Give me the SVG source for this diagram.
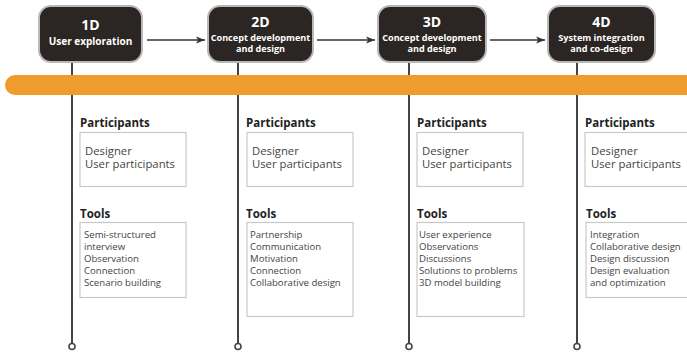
<svg xmlns="http://www.w3.org/2000/svg" width="687" height="353" viewBox="0 0 687 353">
  <defs>
    <marker id="arrow" viewBox="0 0 10 10" refX="10" refY="5" markerWidth="9" markerHeight="9" markerUnits="userSpaceOnUse" orient="auto">
      <path d="M0,1 L10,5 L0,9 L2.5,5 Z" fill="#333"/>
    </marker>
    <style>
      .stage rect { fill: #2b2624; stroke: #b8b8b8; stroke-width: 2; }
      .stage text { fill: #ffffff; font-family: "Open Sans", "Noto Sans", sans-serif; font-weight: bold; text-anchor: middle; }
      .stage .num { font-size: 14px; }
      .stage .sub { font-size: 9.1px; }
      .stage .sub1 { font-size: 10px; }
      .flow line { stroke: #333; stroke-width: 1.5; }
      .stem { stroke: #444; stroke-width: 2; }
      .end { fill: #fff; stroke: #444; stroke-width: 1.6; }
      .head { font-family: "Open Sans", "Noto Sans", sans-serif; font-weight: bold; font-size: 11.5px; fill: #222; }
      .box { fill: #fff; stroke: #c9c9c9; stroke-width: 1.2; }
      .who { font-family: "Open Sans", "Noto Sans", sans-serif; font-size: 11.3px; fill: #444; }
      .tool { font-family: "Open Sans", "Noto Sans", sans-serif; font-size: 9.6px; fill: #444; }
    </style>
  </defs>

  <rect width="687" height="353" fill="#ffffff"/>

  <!-- timeline stems with end rings -->
  <g id="stems">
    <line class="stem" x1="72" y1="62" x2="72" y2="343"/>
    <circle class="end" cx="72" cy="346.5" r="3"/>
    <line class="stem" x1="238" y1="62" x2="238" y2="343"/>
    <circle class="end" cx="238" cy="346.5" r="3"/>
    <line class="stem" x1="409" y1="62" x2="409" y2="343"/>
    <circle class="end" cx="409" cy="346.5" r="3"/>
    <line class="stem" x1="577" y1="62" x2="577" y2="343"/>
    <circle class="end" cx="577" cy="346.5" r="3"/>
  </g>

  <!-- orange timeline bar -->
  <rect id="bar" x="5" y="75" width="700" height="20" rx="10" fill="#ef9c2f"/>

  <!-- connectors between stages -->
  <g class="flow" id="connectors">
    <line x1="147" y1="40" x2="205" y2="40" marker-end="url(#arrow)"/>
    <line x1="317" y1="40" x2="375" y2="40" marker-end="url(#arrow)"/>
    <line x1="490" y1="40" x2="545" y2="40" marker-end="url(#arrow)"/>
  </g>

  <!-- stage nodes -->
  <g class="stage" id="stage-1d">
    <rect x="39" y="6" width="103" height="56" rx="12"/>
    <text class="num" x="90.5" y="30">1D</text>
    <text class="sub1" x="90.5" y="45">User exploration</text>
  </g>
  <g class="stage" id="stage-2d">
    <rect x="208" y="6" width="105" height="56" rx="12"/>
    <text class="num" x="260.5" y="26.5">2D</text>
    <text class="sub" x="260.5" y="40.5">Concept development</text>
    <text class="sub" x="260.5" y="52">and design</text>
  </g>
  <g class="stage" id="stage-3d">
    <rect x="378" y="6" width="108" height="56" rx="12"/>
    <text class="num" x="432" y="26.5">3D</text>
    <text class="sub" x="432" y="40.5">Concept development</text>
    <text class="sub" x="432" y="52">and design</text>
  </g>
  <g class="stage" id="stage-4d">
    <rect x="548" y="6" width="107" height="56" rx="12"/>
    <text class="num" x="601.5" y="26.5">4D</text>
    <text class="sub" x="601.5" y="40.5">System integration</text>
    <text class="sub" x="601.5" y="52">and co-design</text>
  </g>

  <!-- stage 1 details -->
  <g id="detail-1d">
    <text class="head" x="80" y="127">Participants</text>
    <rect class="box" x="80" y="132.5" width="106" height="54"/>
    <text class="who" x="85" y="154.5">Designer</text>
    <text class="who" x="85" y="168">User participants</text>
    <text class="head" x="80" y="218">Tools</text>
    <rect class="box" x="80" y="222.5" width="106" height="75"/>
    <text class="tool" x="84" y="238">Semi-structured</text>
    <text class="tool" x="84" y="250">interview</text>
    <text class="tool" x="84" y="262">Observation</text>
    <text class="tool" x="84" y="274">Connection</text>
    <text class="tool" x="84" y="286">Scenario building</text>
  </g>

  <!-- stage 2 details -->
  <g id="detail-2d">
    <text class="head" x="246" y="127">Participants</text>
    <rect class="box" x="247" y="132.5" width="106" height="54"/>
    <text class="who" x="252" y="154.5">Designer</text>
    <text class="who" x="252" y="168">User participants</text>
    <text class="head" x="246" y="218">Tools</text>
    <rect class="box" x="247" y="222.5" width="106" height="94"/>
    <text class="tool" x="250" y="238">Partnership</text>
    <text class="tool" x="250" y="250">Communication</text>
    <text class="tool" x="250" y="262">Motivation</text>
    <text class="tool" x="250" y="274">Connection</text>
    <text class="tool" x="250" y="286">Collaborative design</text>
  </g>

  <!-- stage 3 details -->
  <g id="detail-3d">
    <text class="head" x="417" y="127">Participants</text>
    <rect class="box" x="417" y="132.5" width="106" height="54"/>
    <text class="who" x="422" y="154.5">Designer</text>
    <text class="who" x="422" y="168">User participants</text>
    <text class="head" x="417" y="218">Tools</text>
    <rect class="box" x="417" y="222.5" width="107" height="94"/>
    <text class="tool" x="419" y="238">User experience</text>
    <text class="tool" x="419" y="250">Observations</text>
    <text class="tool" x="419" y="262">Discussions</text>
    <text class="tool" x="419" y="274">Solutions to problems</text>
    <text class="tool" x="419" y="286">3D model building</text>
  </g>

  <!-- stage 4 details -->
  <g id="detail-4d">
    <text class="head" x="585" y="127">Participants</text>
    <rect class="box" x="585" y="132.5" width="110" height="54"/>
    <text class="who" x="591" y="154.5">Designer</text>
    <text class="who" x="591" y="168">User participants</text>
    <text class="head" x="586" y="218">Tools</text>
    <rect class="box" x="586" y="222.5" width="110" height="75"/>
    <text class="tool" x="590" y="238">Integration</text>
    <text class="tool" x="590" y="250">Collaborative design</text>
    <text class="tool" x="590" y="262">Design discussion</text>
    <text class="tool" x="590" y="274">Design evaluation</text>
    <text class="tool" x="590" y="286">and optimization</text>
  </g>
</svg>
